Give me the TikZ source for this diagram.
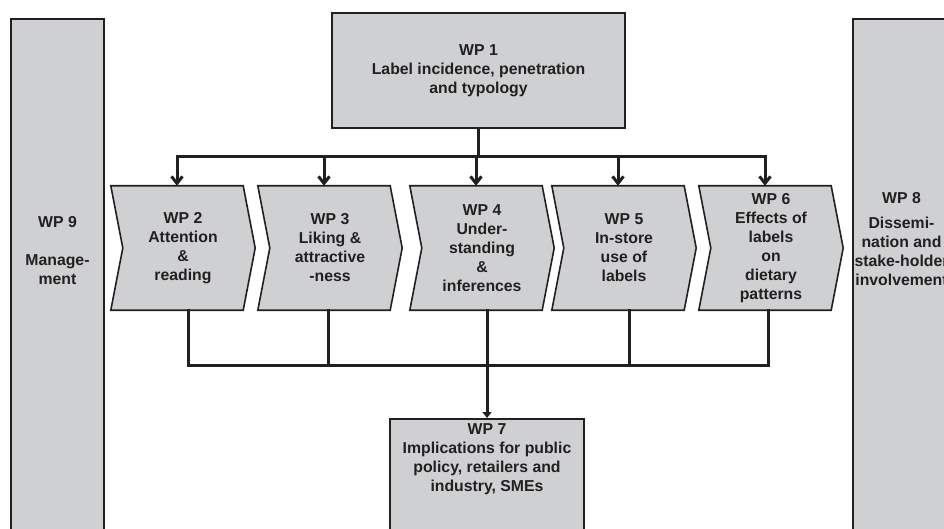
\documentclass[tikz,border=0pt]{standalone}
\usepackage{fontspec}
\setmainfont{Liberation Sans}
\usetikzlibrary{arrows.meta,backgrounds}

\definecolor{wpgray}{RGB}{207,208,210}
\definecolor{wpink}{RGB}{35,31,32}

\begin{document}
\begin{tikzpicture}[x=1pt, y=-1pt,
                    every node/.style={font=\fontsize{15.8}{19}\selectfont\bfseries, text=wpink, align=center, inner sep=0pt},
                    wpbox/.style={draw=wpink, fill=wpgray, line width=1.6pt},
                    wpstep/.style={minimum width=144pt, minimum height=124pt},
                    link/.style={draw=wpink, line width=3pt, line cap=rect},
                    feed/.style={link, -{Straight Barb[length=7pt,width=11pt]}},
                    merge/.style={link, -{Triangle[length=6pt,width=9pt]}}
]
\useasboundingbox (0,0) rectangle (944,529);
\clip (0,0) rectangle (944,529);

\node [wpbox, minimum width=293pt, minimum height=115pt] at (478.5,70.5) (wp1) {WP 1\\Label incidence, penetration\\and typology};
%
\foreach \i/\x/\txt in {2/183/{WP 2\\Attention\\\&\\reading},
                        3/330/{WP 3\\Liking \&\\attractive\\-ness},
                        4/482/{WP 4\\Under-\\standing\\\&\\inferences},
                        5/624/{WP 5\\In-store\\use of\\labels},
                        6/771/{WP 6\\Effects of\\labels\\on\\dietary\\patterns}}
  \node [wpstep] at (\x,248) (wp\i) {\txt};

\begin{scope}[on background layer]
  \foreach \i in {2,...,6}
    \draw [wpbox] (wp\i.north west) -- ([xshift=-12pt]wp\i.north east) -- (wp\i.east)
      -- ([xshift=-12pt]wp\i.south east) -- (wp\i.south west) -- ([xshift=12pt]wp\i.west) -- cycle;
\end{scope}
%
\node [wpbox, minimum width=194pt, anchor=north, text height=72.6pt, text depth=150pt] at (487,418) (wp7) {WP 7\\Implications for public\\policy, retailers and\\industry, SMEs};
\node [wpbox, minimum width=93pt, anchor=north, text height=265.6pt, text depth=400pt] at (57.5,18) (wp9) {WP 9\\[19pt]Manage-\\ment};
\node [wpbox, minimum width=97pt, anchor=north, text height=266.6pt, text depth=400pt] at (901.5,18) (wp8) {WP 8\\[6pt]Dissemi-\\nation and\\stake-holder\\involvement};
%
\coordinate (fork) at (478.5,157);
\coordinate (join) at (0,365);

\draw [link] (wp1) -- (fork);
\draw [link] ([xshift=-6pt]wp2.north |- fork) -- ([xshift=-6pt]wp6.north |- fork);
\foreach \i in {2,...,6}
  \draw [feed] ([xshift=-6pt]wp\i.north |- fork) -- ([xshift=-6pt]wp\i.north);

\draw [link] ([xshift=5pt]wp2.south) -- ([xshift=5pt]wp2.south |- join) -- ([xshift=-3pt]wp6.south |- join) -- ([xshift=-3pt]wp6.south);
\draw [link] ([xshift=-2pt]wp3.south) -- ([xshift=-2pt]wp3.south |- join);
\draw [link] ([xshift=5pt]wp5.south) -- ([xshift=5pt]wp5.south |- join);
\draw [merge] ([xshift=5pt]wp4.south) -- (wp7.north);
\end{tikzpicture}
\end{document}
